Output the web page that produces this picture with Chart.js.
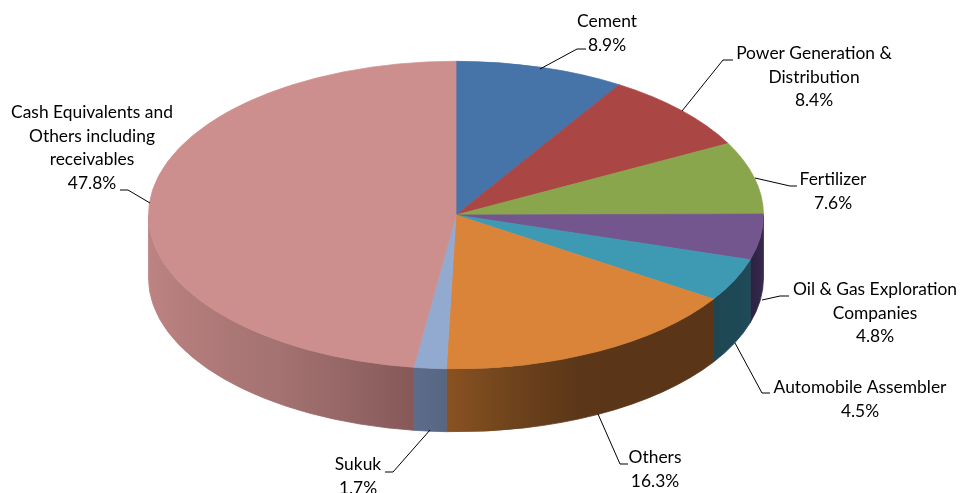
<!DOCTYPE html>
<html>
<head>
<meta charset="utf-8">
<title>Portfolio allocation</title>
<style>
  html, body { margin: 0; padding: 0; background: #fff; }
  canvas { display: block; }
</style>
<script src="https://cdn.jsdelivr.net/npm/chart.js@4"></script>
</head>
<body>
<canvas id="pie" width="960" height="493"></canvas>
<script>
// Portfolio share per sector, clockwise from twelve o'clock.
const sectors = [
  'Cement', 'Power Generation & Distribution', 'Fertilizer',
  'Oil & Gas Exploration Companies', 'Automobile Assembler',
  'Others', 'Sukuk', 'Cash Equivalents and Others including receivables'
];
const shares = [8.9, 8.4, 7.6, 4.8, 4.5, 16.3, 1.7, 47.8];

const topColors = ['#4673a8', '#aa4644', '#8aa64c', '#74568f', '#3e9ab3', '#da843a', '#93aad0', '#cc8f8e'];

// Rim shading of each slice, left to right across its visible width.
const rimShades = [
  ['#2a4565', '#2a4565'], ['#662a29', '#662a29'], ['#53642e', '#53642e'],
  ['#2c2140', '#362a4e'],
  ['#1e4552', '#1f4a58'],
  ['#8a5222', '#6e431c', '#5b3619', '#5a3517', '#5a3517'],
  ['#5c6d8b', '#566682'],
  ['#bc8382', '#ae7978', '#a37271', '#946665', '#865858']
];

// Wrapped label text and where each callout sits on the page.
const labelLines = [
  ['Cement'], ['Power Generation &', 'Distribution'], ['Fertilizer'],
  ['Oil & Gas Exploration', 'Companies'], ['Automobile Assembler'],
  ['Others'], ['Sukuk'], ['Cash Equivalents and', 'Others including', 'receivables']
];
const labelCentres = [607, 814, 833, 875, 860, 655, 358, 92];
const labelBaselines = [27, 59, 185, 295, 393, 463, 470, 118];
const leaders = [
  [[540, 69], [577, 49], [586, 49]],
  [[682, 111], [723, 60], [733, 60]],
  [[755, 178], [790, 186], [797, 186]],
  [[762, 300], [780, 296], [789, 296]],
  [[735, 343], [762, 393], [770, 393]],
  [[598, 414], [620, 464], [628, 464]],
  [[430, 430], [393, 472], [385, 472]],
  [[150, 203], [128, 190], [120, 190]]
];

const SQUASH = 0.5;
const RIM_DEPTH = 63;
const LINE_HEIGHT = 23.6;

// Extruded rim: the lower half of every slice, pushed down by RIM_DEPTH.
const rimPlugin = {
  id: 'rim',
  beforeDatasetsDraw(chart) {
    const { ctx } = chart;
    chart.getDatasetMeta(0).data.forEach((arc, i) => {
      const a0 = Math.max(arc.startAngle, 0);
      const a1 = Math.min(arc.endAngle, Math.PI);
      if (a1 <= a0) return;
      const r = arc.outerRadius;
      const xa = arc.x + r * Math.cos(a0);
      const xb = arc.x + r * Math.cos(a1);
      const grad = ctx.createLinearGradient(Math.min(xa, xb), 0, Math.max(xa, xb), 0);
      rimShades[i].forEach((c, k, all) => grad.addColorStop(k / (all.length - 1), c));
      ctx.save();
      ctx.beginPath();
      ctx.ellipse(arc.x, arc.y, r, r * SQUASH, 0, a0, a1);
      ctx.ellipse(arc.x, arc.y + RIM_DEPTH, r, r * SQUASH, 0, a1, a0, true);
      ctx.closePath();
      ctx.fillStyle = grad;
      ctx.strokeStyle = grad;
      ctx.lineWidth = 0.8;
      ctx.fill();
      ctx.stroke();
      ctx.restore();
    });
  }
};

// Tilts the flat pie face into an ellipse while the slices are painted.
const tiltPlugin = {
  id: 'tilt',
  beforeDatasetDraw(chart, args) {
    const { ctx } = chart;
    const cy = args.meta.data[0].y;
    ctx.save();
    ctx.translate(0, cy);
    ctx.scale(1, SQUASH);
    ctx.translate(0, -cy);
  },
  afterDatasetDraw(chart) {
    chart.ctx.restore();
  }
};

// Callouts: leader line plus sector name and share.
const calloutPlugin = {
  id: 'callouts',
  afterDraw(chart) {
    const { ctx } = chart;
    ctx.save();
    ctx.strokeStyle = '#000';
    ctx.lineWidth = 1;
    leaders.forEach(points => {
      ctx.beginPath();
      points.forEach(([x, y], k) => (k ? ctx.lineTo(x, y) : ctx.moveTo(x, y)));
      ctx.stroke();
    });
    ctx.fillStyle = '#000';
    ctx.font = '17.4px Lato, Carlito, sans-serif';
    ctx.textAlign = 'center';
    ctx.textBaseline = 'alphabetic';
    sectors.forEach((_, i) => {
      const rows = labelLines[i].concat(shares[i].toFixed(1) + '%');
      rows.forEach((row, k) => {
        ctx.fillText(row, labelCentres[i], labelBaselines[i] + k * LINE_HEIGHT);
      });
    });
    ctx.restore();
  }
};

new Chart(document.getElementById('pie'), {
  type: 'pie',
  data: {
    labels: sectors,
    datasets: [{
      data: shares,
      backgroundColor: topColors,
      borderColor: topColors,
      borderWidth: 1,
      clip: false
    }]
  },
  options: {
    responsive: false,
    animation: false,
    radius: 307.5,
    layout: { padding: { left: 0, right: 48, top: 0, bottom: 63 } },
    plugins: { legend: { display: false }, tooltip: { enabled: false }, title: { display: false } },
    events: []
  },
  plugins: [rimPlugin, tiltPlugin, calloutPlugin]
});
</script>
</body>
</html>
